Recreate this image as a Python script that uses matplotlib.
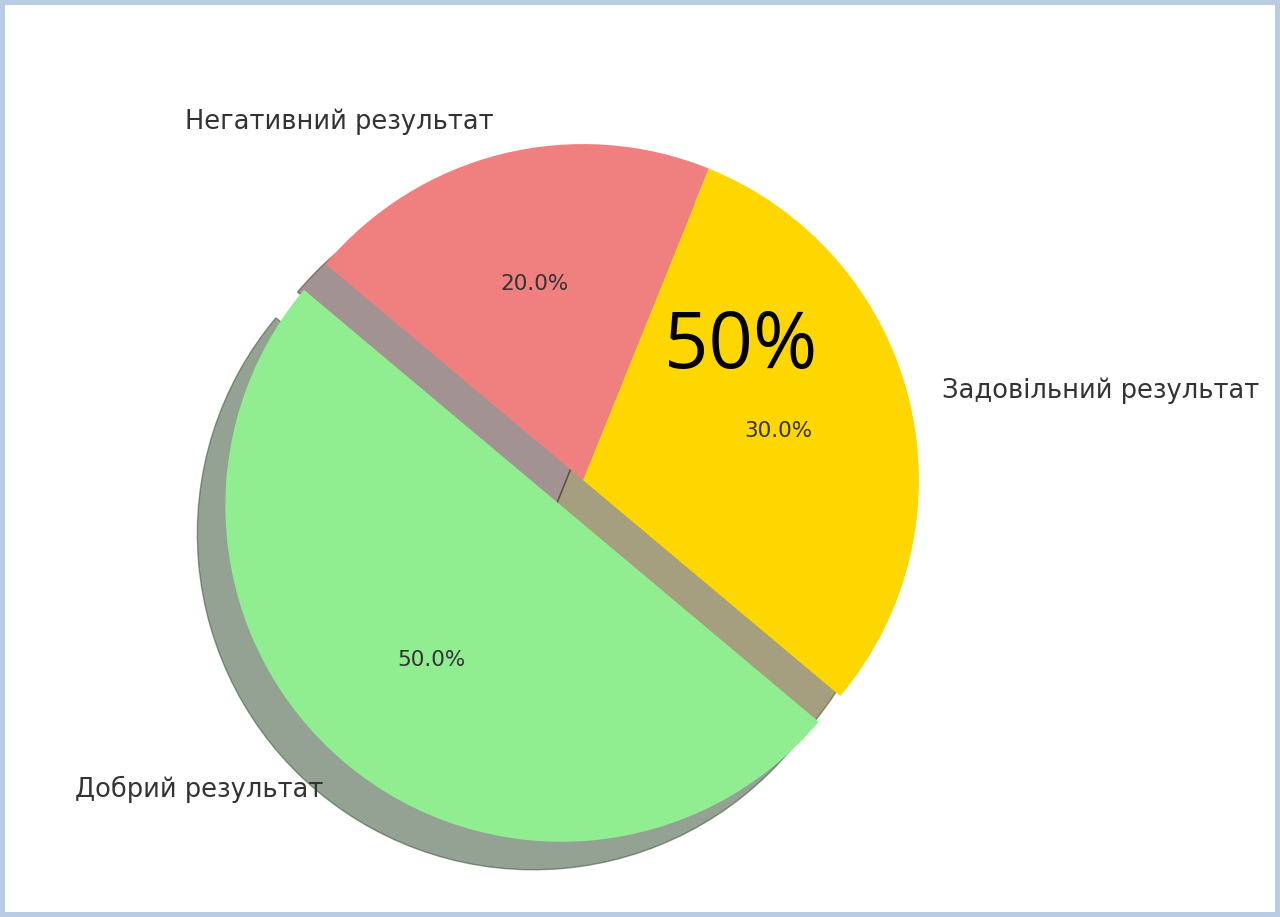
import matplotlib
matplotlib.use("Agg")
import matplotlib.pyplot as plt

# --- Data ---
labels = ["Добрий результат", "Задовільний результат", "Негативний результат"]
sizes = [50, 30, 20]
colors = ["lightgreen", "gold", "lightcoral"]
explode = [0.1, 0, 0]
big_label = "50%"

# --- Figure setup ---
fig = plt.figure(figsize=(12.8, 9.17), dpi=100)
fig.patch.set_edgecolor("#b8cde3")
fig.patch.set_linewidth(7)

ax = fig.add_axes([0.1273, 0.0185, 0.65625, 0.916])
wedges, texts, autotexts = ax.pie(
    sizes,
    labels=labels,
    colors=colors,
    explode=explode,
    autopct="%1.1f%%",
    startangle=140,
    shadow={"ox": -0.06, "oy": -0.06},
    textprops={"fontsize": 18.5, "color": "#333333"},
)
for t in autotexts:
    t.set_fontsize(15.5)

ax.text(0.47, 0.395, big_label, fontsize=56, color="black",
        family=["Open Sans", "DejaVu Sans"], ha="center", va="center")
ax.set_xlim(-1.25, 1.25)
ax.set_ylim(-1.25, 1.25)
ax.set_aspect("equal")

fig.savefig("out.png", dpi=100, edgecolor=fig.get_edgecolor())
